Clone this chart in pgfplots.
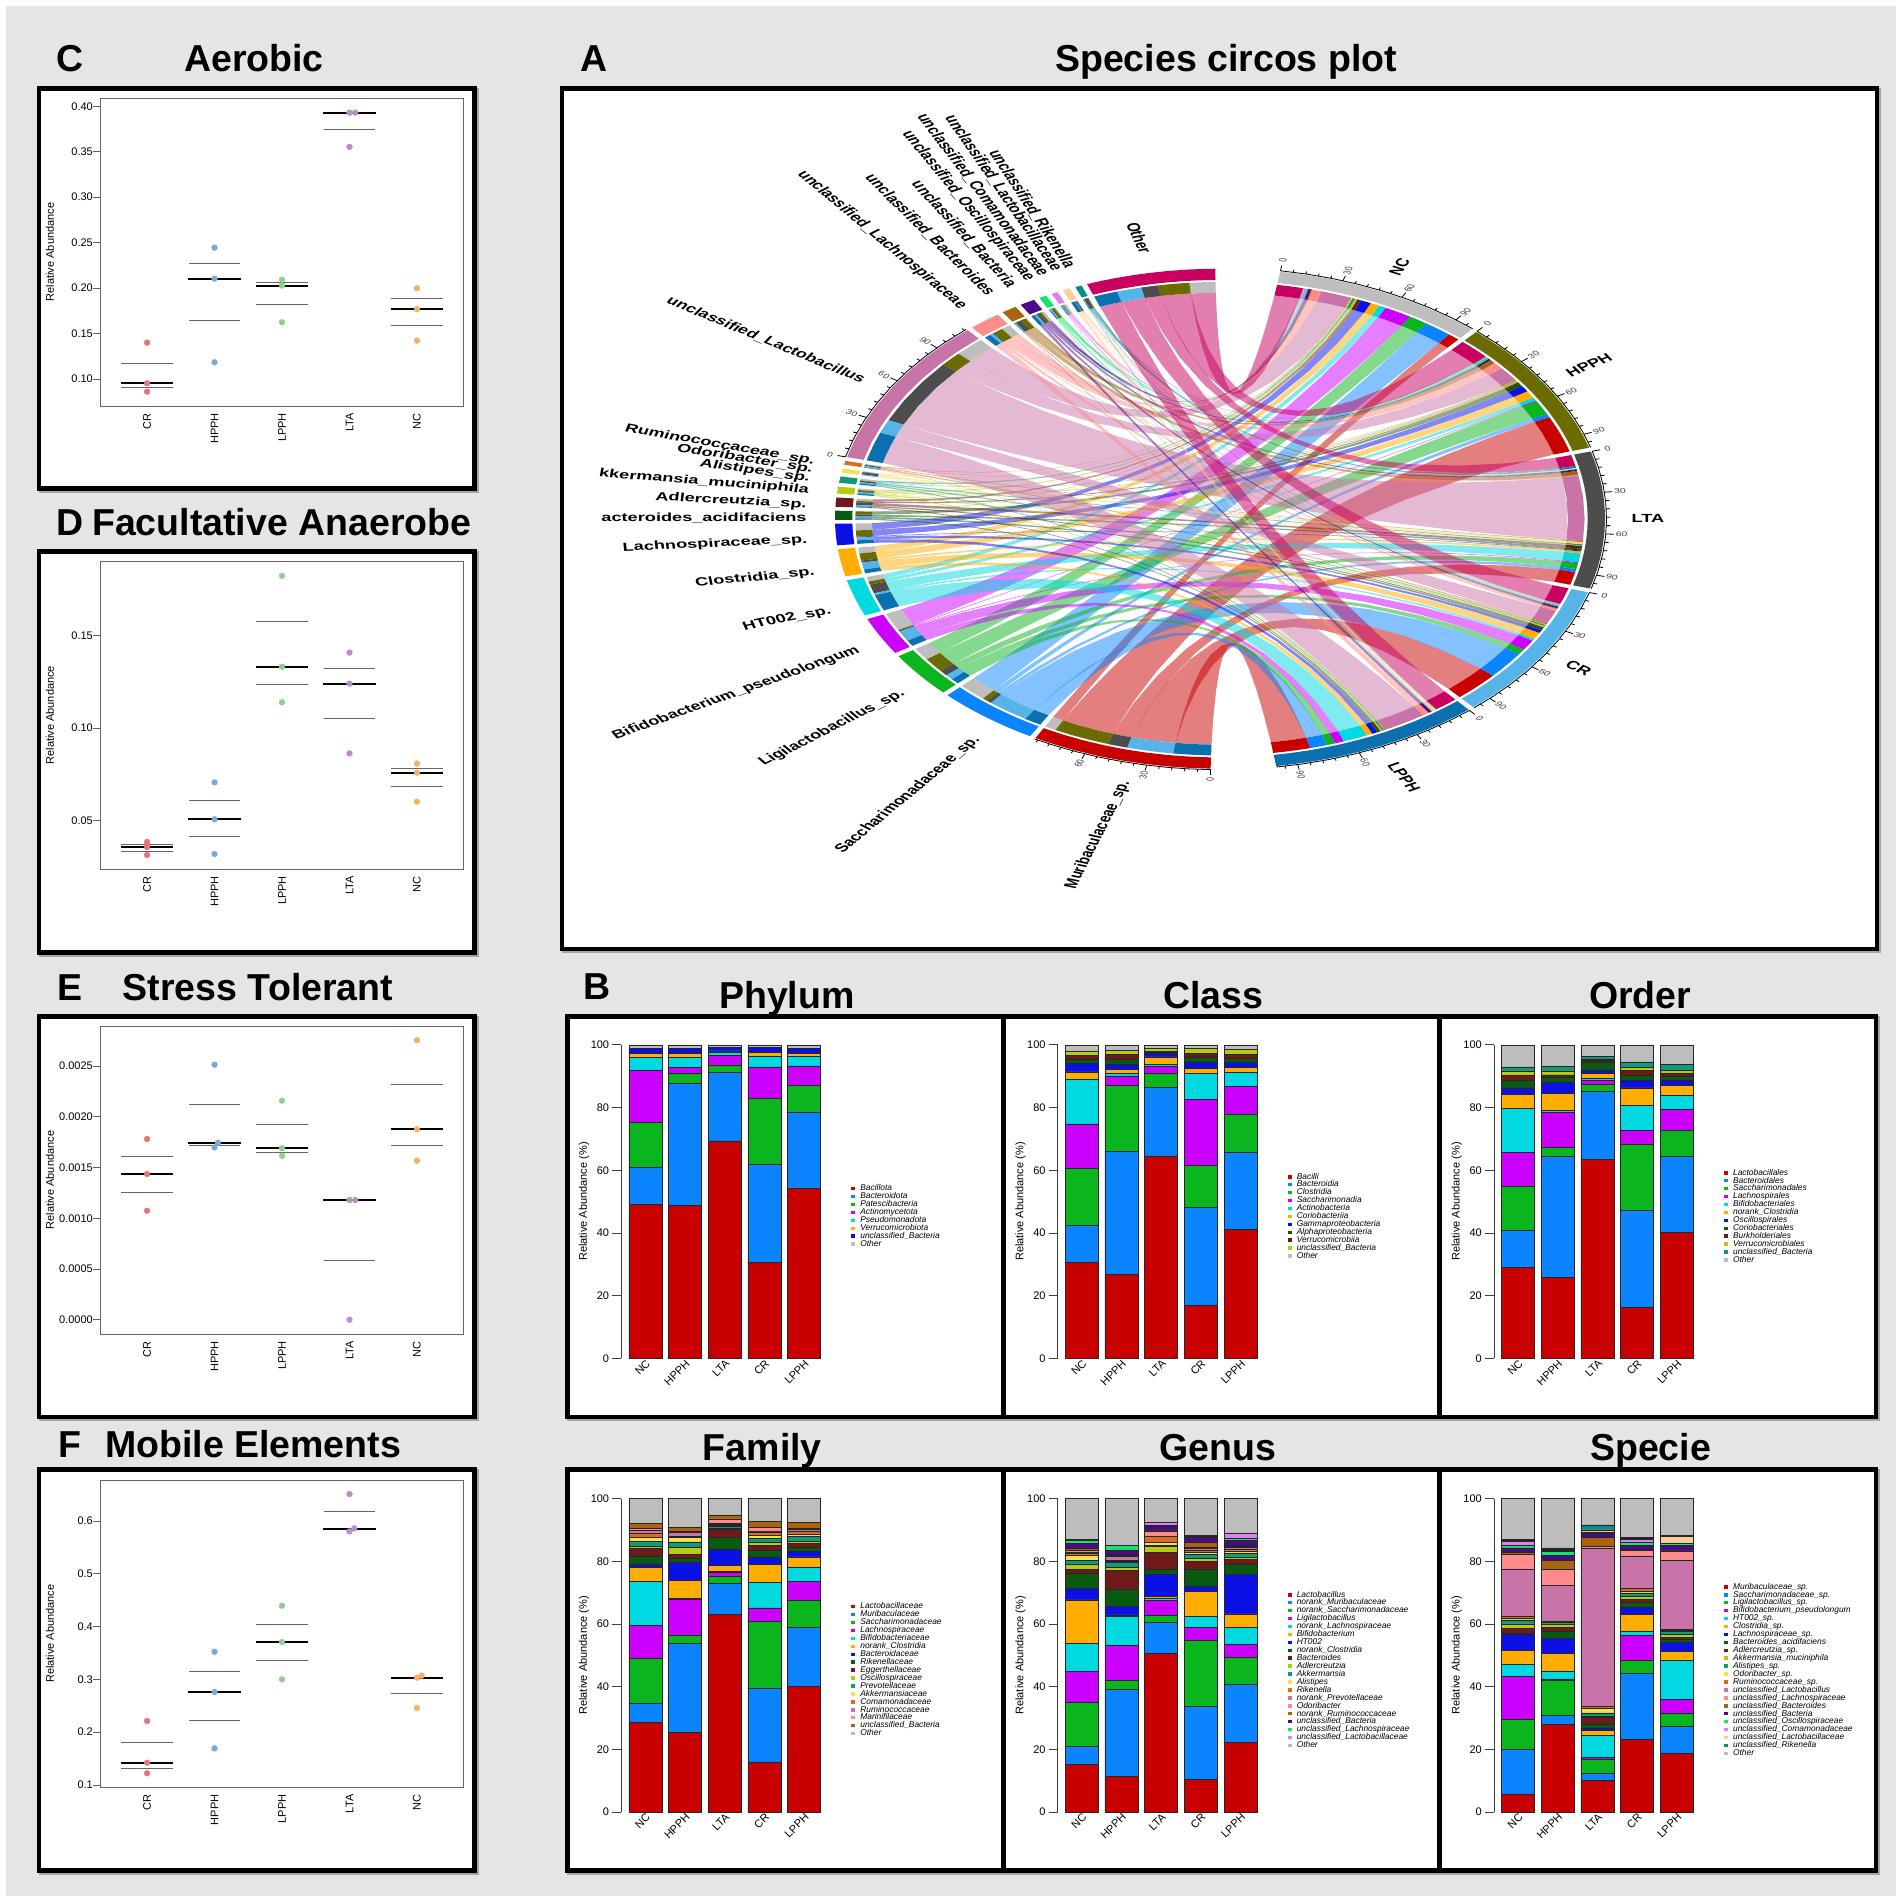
\documentclass[border=0pt]{standalone}
\usepackage{fontspec}
\setmainfont{Liberation Sans}
\usepackage{pgfplots}
\usepackage{pgfplotstable}
\pgfplotsset{compat=1.18}

% taxon colours, shared by all stacked bars
\definecolor{c1}{HTML}{C80000}\definecolor{c2}{HTML}{0A84FF}\definecolor{c3}{HTML}{0AB51E}
\definecolor{c4}{HTML}{CC00FF}\definecolor{c5}{HTML}{00D9E0}\definecolor{c6}{HTML}{FFAD00}
\definecolor{c7}{HTML}{0A10E6}\definecolor{c8}{HTML}{0A5A12}\definecolor{c9}{HTML}{6E1A1A}
\definecolor{c10}{HTML}{B5CC12}\definecolor{c11}{HTML}{12997A}\definecolor{c12}{HTML}{F5E050}
\definecolor{c13}{HTML}{DD6A1E}\definecolor{c14}{HTML}{C874A8}\definecolor{c15}{HTML}{FF8C8C}
\definecolor{c16}{HTML}{A8640F}\definecolor{c17}{HTML}{4B0A8C}\definecolor{c18}{HTML}{12E66E}
\definecolor{c19}{HTML}{E080F0}\definecolor{c20}{HTML}{FFCC99}\definecolor{c21}{HTML}{0A8C8C}
\definecolor{cO}{HTML}{BDBDBD}
\definecolor{c22}{HTML}{C8005F}
% group colours of the circos plot
\definecolor{g0}{HTML}{BEBEBE}\definecolor{g1}{HTML}{6B6B00}\definecolor{g2}{HTML}{4D4D4D}
\definecolor{g3}{HTML}{56B4E9}\definecolor{g4}{HTML}{0A70B0}
% points of the strip charts
\definecolor{ptR}{HTML}{E8737A}\definecolor{ptB}{HTML}{7AA9D6}\definecolor{ptG}{HTML}{8FD08A}
\definecolor{ptP}{HTML}{B98FC6}\definecolor{ptO}{HTML}{F7B060}

% ---- stacked bar data, rows NC HPPH LTA CR LPPH
\pgfplotstableread{
x c1 c2 c3 c4 c5 c6 c7 c8
0 49.1 11.9 14.2 16.7 4.0 1.3 1.6 1.2
1 48.8 39.1 2.9 2.0 3.2 1.3 1.6 1.1
2 69.4 21.8 2.4 3.0 1.2 0.3 1.0 0.9
3 30.6 31.2 21.2 10.0 3.4 1.2 1.5 0.9
4 54.1 24.5 8.6 6.1 3.0 1.0 1.7 1.0
}\tPhylum
\pgfplotstableread{
x c1 c2 c3 c4 c5 c6 c7 c8 c9 c10 c11
0 30.6 11.9 18.0 14.3 14.1 2.5 2.6 1.3 1.3 1.5 1.9
1 26.8 39.1 21.3 2.9 0.8 1.2 1.7 1.7 1.5 1.3 1.7
2 64.6 21.9 4.3 2.4 0.7 2.3 1.0 0.6 0.2 0.8 1.2
3 17.0 31.1 13.4 21.2 8.2 1.7 2.0 1.4 1.3 1.5 1.2
4 41.2 24.5 12.3 8.7 4.6 1.4 1.7 1.3 1.2 1.6 1.5
}\tClass
\pgfplotstableread{
x c1 c2 c3 c4 c5 c6 c7 c8 c9 c10 c11 c12
0 29.1 11.7 14.2 10.7 14.0 4.6 2.0 2.3 1.7 1.4 1.3 7.0
1 25.9 38.5 2.9 11.1 0.7 5.5 3.5 1.7 0.6 1.3 1.5 6.8
2 63.5 21.6 2.4 1.1 0.6 1.7 1.1 2.4 0.7 0.3 0.9 3.7
3 16.3 30.8 21.1 4.5 8.0 5.6 2.5 1.6 1.4 1.1 1.7 5.4
4 40.2 24.2 8.5 6.4 4.5 3.2 1.6 1.4 1.0 0.9 1.9 6.2
}\tOrder
\pgfplotstableread{
x c1 c2 c3 c4 c5 c6 c7 c8 c9 c10 c11 c12 c13 c14 c15 c16 c17
0 28.7 5.9 14.3 10.7 13.9 4.6 1.1 2.5 2.4 0.7 1.5 1.3 1.2 1.2 0.4 1.6 8.0
1 25.4 28.3 2.8 11.3 0.5 5.6 5.8 1.1 1.3 2.3 1.8 1.4 0.4 1.1 0.4 1.4 9.1
2 63.0 9.9 2.4 1.1 0.5 1.7 5.2 3.9 2.4 0.4 0.7 0.3 0.3 0.3 1.4 1.3 5.2
3 16.0 23.6 21.1 4.4 8.1 5.7 2.4 2.1 1.7 0.9 1.2 1.1 1.1 0.3 1.2 1.8 7.3
4 40.0 18.9 8.5 6.1 4.7 3.2 1.7 1.4 1.2 0.8 1.4 0.7 1.1 0.5 0.3 1.8 7.7
}\tFamily
\pgfplotstableread{
x c1 c2 c3 c4 c5 c6 c7 c8 c9 c10 c11 c12 c13 c14 c15 c16 c17 c18 c19 c20
0 15.2 5.7 14.2 9.7 9.0 13.9 3.7 4.7 1.3 1.6 1.3 1.6 0.5 0.6 0.6 0.4 1.6 1.1 0.3 13.0
1 11.3 27.8 2.8 11.3 9.2 0.5 2.7 5.6 5.8 1.1 1.5 0.4 0.3 1.2 0.5 0.2 1.3 1.5 0.2 14.8
2 50.6 9.9 2.3 4.6 0.7 0.7 7.1 1.6 5.3 1.9 0.5 0.9 1.9 0.1 1.6 0.2 1.4 0.2 0.9 7.6
3 10.4 23.3 21.0 4.1 3.6 7.9 1.7 5.6 2.3 1.1 1.2 0.7 0.6 0.5 0.4 1.6 1.6 0.3 0.3 11.8
4 22.1 18.6 8.6 4.2 5.3 4.4 12.6 3.2 1.6 0.8 1.1 0.8 0.6 0.5 0.3 0.3 1.6 0.8 1.4 11.2
}\tGenus
\pgfplotstableread{
x c1 c2 c3 c4 c5 c6 c7 c8 c9 c10 c11 c12 c13 c14 c15 c16 c17 c18 c19 c20 c21 c22
0 5.8 14.2 9.6 13.8 3.6 4.5 5.3 0.2 1.7 1.3 1.3 0.6 0.5 15.2 4.6 0.6 1.5 0.7 1.3 0.3 0.4 13.0
1 28.0 2.8 11.1 0.6 2.5 5.5 4.8 2.4 1.1 1.2 0.4 0.3 0.3 11.2 5.3 2.9 1.4 1.4 0.3 0.3 0.5 15.7
2 10.0 2.3 4.5 0.7 6.9 1.6 0.6 1.5 2.1 0.4 1.0 1.5 0.7 50.4 0.5 2.9 1.4 0.2 0.2 0.6 1.6 8.4
3 23.2 21.0 4.1 8.0 1.5 5.3 2.2 1.5 1.0 1.1 1.0 0.4 1.0 10.4 1.7 0.5 1.3 0.9 0.9 0.3 0.3 12.4
4 18.7 8.5 4.2 4.6 12.3 3.0 2.7 1.0 0.8 1.0 0.9 0.2 0.3 22.0 3.1 0.3 1.6 0.4 0.3 2.0 0.3 11.8
}\tSpecie

% ---- strip chart data
\pgfplotstableread{
g x y
CR 0 0.1400
CR 0 0.0953
CR 0 0.0861
HPPH 1 0.2445
HPPH 1 0.2104
HPPH 1 0.1184
LPPH 2 0.2093
LPPH 2 0.2027
LPPH 2 0.1624
LTA 3 0.3930
LTA 3.085 0.3930
LTA 3 0.3553
NC 4 0.1998
NC 4 0.1767
NC 4 0.1422
}\ptsC
\pgfplotstableread{
x med lo hi
0 0.0953 0.0908 0.1176
1 0.2104 0.1642 0.2273
2 0.2027 0.1825 0.2064
3 0.3930 0.3740 0.3930
4 0.1767 0.1594 0.1885
}\linC
\pgfplotstableread{
g x y
CR 0 0.0387
CR 0 0.0360
CR 0 0.0317
HPPH 1 0.0708
HPPH 1 0.0509
HPPH 1 0.0322
LPPH 2 0.1821
LPPH 2 0.1331
LPPH 2 0.1139
LTA 3 0.1407
LTA 3 0.1240
LTA 3 0.0864
NC 4 0.0809
NC 4 0.0760
NC 4 0.0604
}\ptsD
\pgfplotstableread{
x med lo hi
0 0.0358 0.0338 0.0373
1 0.0509 0.0416 0.0609
2 0.1331 0.1234 0.1575
3 0.1240 0.1051 0.1322
4 0.0760 0.0683 0.0784
}\linD
\pgfplotstableread{
g x y
CR 0 0.00178
CR 0 0.001436
CR 0 0.001074
HPPH 1 0.002513
HPPH 1.05 0.001744
HPPH 1 0.001698
LPPH 2 0.002158
LPPH 2 0.001689
LPPH 2 0.001616
LTA 3 0.001179
LTA 3.085 0.001179
LTA 3 0.0
NC 4 0.002753
NC 4 0.001876
NC 4 0.001567
}\ptsE
\pgfplotstableread{
x med lo hi
0 0.001436 0.001255 0.00161
1 0.00174 0.00172 0.002125
2 0.001689 0.001652 0.001925
3 0.001176 0.000585 0.001176
4 0.001876 0.00172 0.002313
}\linE
\pgfplotstableread{
g x y
CR 0 0.2212
CR 0 0.1423
CR 0 0.1221
HPPH 1 0.3525
HPPH 1 0.2761
HPPH 1 0.1694
LPPH 2 0.4396
LPPH 2 0.3708
LPPH 2 0.3001
LTA 3 0.6511
LTA 3.07 0.5861
LTA 3 0.5804
NC 4.07 0.3071
NC 4 0.3033
NC 4 0.2458
}\ptsF
\pgfplotstableread{
x med lo hi
0 0.1423 0.1322 0.1814
1 0.2761 0.2225 0.3146
2 0.3708 0.3355 0.4049
3 0.5855 0.5855 0.6189
4 0.3033 0.2742 0.3033
}\linF

\newcommand{\tickfont}{\fontsize{11}{12}\selectfont}
\newcommand{\titlefont}{\fontsize{37.5}{40}\selectfont\bfseries}
\newcommand{\legfont}{\fontsize{8.4}{8.4}\selectfont\itshape}
\pgfplotsset{
  every axis/.append style={/pgf/number format/assume math mode=true},
  swatch/.style={legend image code/.code={\path[##1] (0pt,-1.5pt) rectangle (4pt,2pt);}},
}

\newcount\nleg
% #1 left of axis, #2 y of zero, #3 table, #4 number of taxa, #5 names
\newcommand{\barpanel}[5]{%
\begin{axis}[at={(#1pt,-#2pt)},anchor=south west,scale only axis,width=202.7pt,height=313.4pt,
  ybar stacked,bar width=33pt,xmin=-0.605,xmax=4.5,ymin=0,ymax=100,
  axis y line*=left,axis x line*=bottom,x axis line style={draw=none},
  y axis line style={draw=black!75,line width=0.9pt},
  ytick={0,20,40,60,80,100},xtick={0,1,2,3,4},xticklabels={NC,HPPH,LTA,CR,LPPH},
  xtick style={draw=none},ytick style={draw=black!75,line width=0.9pt},tick align=outside,
  major tick length=9pt,
  xticklabel style={rotate=45,anchor=north east,font=\tickfont,inner sep=0pt,xshift=6pt,yshift=6pt},
  yticklabel style={font=\tickfont,inner sep=3pt},
  ylabel={Relative Abundance (\%)},
  ylabel style={at={(axis description cs:-0.184,0.5)},anchor=center,font=\tickfont},
  legend style={at={(axis description cs:1.135,0.452)},anchor=west,draw=none,fill=none,
    inner sep=0pt,outer sep=0pt,font=\legfont,row sep=0pt,column sep=0pt,
    /tikz/column 1/.style={column sep=5pt},
    nodes={inner sep=0pt,outer sep=0pt,text height=6pt,text depth=1.93pt}},
  legend cell align=left,
]
\pgfplotsforeachungrouped \i in {1,...,#4}{%
  \ifnum\i=#4\relax\def\thecol{cO}\else\edef\thecol{c\i}\fi
  \edef\tmp{\noexpand\addplot[forget plot,fill=\thecol,draw=black!85,line width=0.6pt] table[x=x,y=c\i]{\noexpand#3};}\tmp
}
\global\nleg=0
\pgfplotsforeachungrouped \nm in {#5}{%
  \global\advance\nleg by 1
  \ifnum\nleg=#4\relax\def\thecol{cO}\else\edef\thecol{c\the\nleg}\fi
  \edef\tmp{\noexpand\addlegendimage{swatch,fill=\thecol,draw=none}}\tmp
  \expandafter\addlegendentry\expandafter{\nm\hspace*{0pt}}
}
\end{axis}}

% #1 top, #2 bottom, #3 ymin, #4 ymax, #5 ticks, #6 precision, #7 points, #8 lines
\newcommand{\strip}[8]{%
\begin{axis}[at={(100pt,-#2pt)},anchor=south west,scale only axis,width=363.5pt,height=\fpeval{#2-#1}pt,
  xmin=-0.698,xmax=4.69,ymin=#3,ymax=#4,ytick={#5},xtick={0,1,2,3,4},
  xticklabels={CR,HPPH,LPPH,LTA,NC},xtick style={draw=none},
  axis line style={draw=black!60,line width=0.9pt},
  ytick style={draw=black!60,line width=0.9pt},tick align=outside,major tick length=7pt,
  ytick pos=left,scaled y ticks=false,
  yticklabel style={font=\tickfont,inner sep=0pt,/pgf/number format/fixed,
    /pgf/number format/fixed zerofill,/pgf/number format/precision=#6},
  xticklabel style={rotate=90,anchor=east,font=\tickfont,inner sep=0pt},
  ylabel={Relative Abundance},
  ylabel style={at={(axis description cs:-0.138,0.5)},anchor=center,font=\tickfont},
  clip=false,
]
\addplot[draw=none,mark=none,forget plot,error bars/.cd,x dir=both,x fixed=0.38,error mark=none,
  error bar style={draw=black!60,line width=1pt}] table[x=x,y=lo]{#8};
\addplot[draw=none,mark=none,forget plot,error bars/.cd,x dir=both,x fixed=0.38,error mark=none,
  error bar style={draw=black!60,line width=1pt}] table[x=x,y=hi]{#8};
\addplot[scatter,only marks,forget plot,mark size=2.9pt,scatter src=explicit symbolic,
  scatter/classes={CR={mark=*,draw=ptR,fill=ptR},HPPH={mark=*,draw=ptB,fill=ptB},
    LPPH={mark=*,draw=ptG,fill=ptG},LTA={mark=*,draw=ptP,fill=ptP},NC={mark=*,draw=ptO,fill=ptO}}]
  table[x=x,y=y,meta=g]{#7};
\addplot[draw=none,mark=none,forget plot,error bars/.cd,x dir=both,x fixed=0.39,error mark=none,
  error bar style={draw=black,line width=1.8pt}] table[x=x,y=med]{#8};
\end{axis}}

\newcommand{\frm}[4]{%
  \draw[black!35,line width=4.6pt] (#1pt+2pt,-#2pt-2pt) rectangle (#3pt+2pt,-#4pt-2pt);
  \fill[white] (#1pt,-#2pt) rectangle (#3pt,-#4pt);
  \draw[black,line width=4.6pt] (#1pt,-#2pt) rectangle (#3pt,-#4pt);}
\newcommand{\ttl}[3]{\node[anchor=base west,inner sep=0pt,font=\titlefont] at (#1pt,-#2pt) {#3};}

% ---- circos geometry, built from the Specie table
\def\uu{0.318}\def\gp{0.9}\def\Rin{0.904}\def\Rband{0.947}\def\kk{0.12}
\def\ptR#1#2{(\fpeval{round((#2)*sind(#1),4)},\fpeval{round((#2)*cosd(#1),4)})}

\newcommand{\sector}[6]{% a1 a2 r1 r2 colour n
  \gdef\tmpc{}%
  \pgfplotsforeachungrouped \k in {0,...,#6}{\xdef\tmpc{\tmpc\ptR{#1+((#2)-(#1))*\k/#6}{#4}}}%
  \pgfplotsforeachungrouped \k in {0,...,#6}{\xdef\tmpc{\tmpc\ptR{(#2)-((#2)-(#1))*\k/#6}{#3}}}%
  \edef\tmp{\noexpand\addplot[forget plot,fill=#5,draw=none] coordinates {\tmpc};}\tmp}

\def\Qp#1{(\fpeval{round(((1-#1)^2+\kk*#1*(1-#1))*\xa+((#1)^2+\kk*#1*(1-#1))*\xb,4)},\fpeval{round(((1-#1)^2+\kk*#1*(1-#1))*\ya+((#1)^2+\kk*#1*(1-#1))*\yb,4)})}
\def\Qall{\Qp{.08}\Qp{.16}\Qp{.25}\Qp{.33}\Qp{.42}\Qp{.5}\Qp{.58}\Qp{.67}\Qp{.75}\Qp{.84}\Qp{.92}}
\newcommand{\setends}[2]{%
  \edef\xa{\fpeval{\Rin*sind(#1)}}\edef\ya{\fpeval{\Rin*cosd(#1)}}%
  \edef\xb{\fpeval{\Rin*sind(#2)}}\edef\yb{\fpeval{\Rin*cosd(#2)}}}
\newcommand{\ribbon}[5]{% s1 s2 t1 t2 colour
  \edef\rc{\ptR{#1}{\Rin}\ptR{(#1+#2)/2}{\Rin}\ptR{#2}{\Rin}}%
  \setends{#2}{#3}\edef\rc{\rc\Qall\ptR{#3}{\Rin}\ptR{(#3+#4)/2}{\Rin}\ptR{#4}{\Rin}}%
  \setends{#4}{#1}\edef\rc{\rc\Qall}%
  \edef\tmp{\noexpand\addplot[forget plot,fill=#5,draw=none,fill opacity=0.5] coordinates {\rc};}\tmp}

\newcommand{\addticks}[2]{% start, units
  \edef\nmax{\fpeval{floor(#2)}}%
  \xdef\tk{\tk
    \ptR{#1}{1.004}\ptR{#1+\uu*#2*.125}{1.004}\ptR{#1+\uu*#2*.25}{1.004}\ptR{#1+\uu*#2*.375}{1.004}\ptR{#1+\uu*#2*.5}{1.004}%
    \ptR{#1+\uu*#2*.625}{1.004}\ptR{#1+\uu*#2*.75}{1.004}\ptR{#1+\uu*#2*.875}{1.004}\ptR{#1+\uu*#2}{1.004}(nan,nan)}%
  \count255=0
  \loop\ifnum\count255<\numexpr\nmax+1\relax
    \ifnum\numexpr\count255-30*(\count255/30)\relax=0 \def\rr{1.025}\else\def\rr{1.014}\fi
    \xdef\tk{\tk\ptR{#1+\uu*\the\count255}{1.004}\ptR{#1+\uu*\the\count255}{\rr}(nan,nan)}%
    \advance\count255 by 6
  \repeat}

% small numbers round the ring, in the stretched circle's own space
\newcommand{\ringnum}[2]{% start angle, value
  \edef\aa{\fpeval{#1+\uu*#2}}%
  \edef\ro{\fpeval{\aa<180 ? 90-\aa : 270-\aa}}%
  \node[transform shape,rotate=\ro,inner sep=0pt,font=\fontsize{6.8}{7}\selectfont,text=black!75]
    at (\fpeval{261.25*sind(\aa)}pt,\fpeval{261.25*cosd(\aa)}pt) {#2};}
\newcommand{\ringnums}[1]{\ringnum{#1}{0}\ringnum{#1}{30}\ringnum{#1}{60}\ringnum{#1}{90}}
\newcommand{\lab}[4]{% centre x, y, screen angle, text
  \begin{scope}[shift={(#1pt,-#2pt)},xscale=1.54]
  \node[transform shape,inner sep=0pt,rotate=\fpeval{atand(1.54*sind(#3),cosd(#3))},
    font=\fontsize{11.8}{12}\selectfont\bfseries] {#4};
  \end{scope}}

\begin{document}
\begin{tikzpicture}[x=1pt,y=1pt]
\useasboundingbox (0pt,0pt) rectangle (1902pt,-1902pt);
\fill[white] (0pt,0pt) rectangle (1902pt,-1902pt);
\fill[black!10] (6pt,-6pt) rectangle (1896pt,-1896pt);

\frm{39}{88.3}{474.6}{488.5}
\frm{39}{551.6}{474.6}{952.4}
\frm{39}{1016.3}{474.6}{1417}
\frm{39}{1469.6}{474.6}{1870.4}
\frm{562}{88.3}{1877}{949}
\frm{567.2}{1016.3}{1003.6}{1416.8}
\frm{1003.6}{1016.3}{1439.7}{1416.8}
\frm{1439.7}{1016.3}{1876}{1416.8}
\frm{567.2}{1469.5}{1003.6}{1870.7}
\frm{1003.6}{1469.5}{1439.7}{1870.7}
\frm{1439.7}{1469.5}{1876}{1870.7}

\strip{98}{406}{0.0703}{0.4091}{0.10,0.15,0.20,0.25,0.30,0.35,0.40}{2}{\ptsC}{\linC}
\strip{561.3}{869}{0.0241}{0.1899}{0.05,0.10,0.15}{2}{\ptsD}{\linD}
\strip{1026}{1334}{-0.000141}{0.002894}{0,0.0005,0.0010,0.0015,0.0020,0.0025}{4}{\ptsE}{\linE}
\strip{1480}{1787.3}{0.0956}{0.6777}{0.1,0.2,0.3,0.4,0.5,0.6}{1}{\ptsF}{\linF}

\barpanel{621.3}{1358.3}{\tPhylum}{8}{Bacillota,Bacteroidota,Patescibacteria,Actinomycetota,Pseudomonadota,Verrucomicrobiota,unclassified\_Bacteria,Other}
\barpanel{1057.7}{1358.3}{\tClass}{11}{Bacilli,Bacteroidia,Clostridia,Saccharimonadia,Actinobacteria,Coriobacteriia,Gammaproteobacteria,Alphaproteobacteria,Verrucomicrobiia,unclassified\_Bacteria,Other}
\barpanel{1494}{1358.3}{\tOrder}{12}{Lactobacillales,Bacteroidales,Saccharimonadales,Lachnospirales,Bifidobacteriales,norank\_Clostridia,Oscillospirales,Coriobacteriales,Burkholderiales,Verrucomicrobiales,unclassified\_Bacteria,Other}
\barpanel{621.3}{1812}{\tFamily}{17}{Lactobacillaceae,Muribaculaceae,Saccharimonadaceae,Lachnospiraceae,Bifidobacteriaceae,norank\_Clostridia,Bacteroidaceae,Rikenellaceae,Eggerthellaceae,Oscillospiraceae,Prevotellaceae,Akkermansiaceae,Comamonadaceae,Ruminococcaceae,Marinifilaceae,unclassified\_Bacteria,Other}
\barpanel{1057.7}{1812}{\tGenus}{20}{Lactobacillus,norank\_Muribaculaceae,norank\_Saccharimonadaceae,Ligilactobacillus,norank\_Lachnospiraceae,Bifidobacterium,HT002,norank\_Clostridia,Bacteroides,Adlercreutzia,Akkermansia,Alistipes,Rikenella,norank\_Prevotellaceae,Odoribacter,norank\_Ruminococcaceae,unclassified\_Bacteria,unclassified\_Lachnospiraceae,unclassified\_Lactobacillaceae,Other}
\barpanel{1494}{1812}{\tSpecie}{22}{Muribaculaceae\_sp.,Saccharimonadaceae\_sp.,Ligilactobacillus\_sp.,Bifidobacterium\_pseudolongum,HT002\_sp.,Clostridia\_sp.,Lachnospiraceae\_sp.,Bacteroides\_acidifaciens,Adlercreutzia\_sp.,Akkermansia\_muciniphila,Alistipes\_sp.,Odoribacter\_sp.,Ruminococcaceae\_sp.,unclassified\_Lactobacillus,unclassified\_Lachnospiraceae,unclassified\_Bacteroides,unclassified\_Bacteria,unclassified\_Oscillospiraceae,unclassified\_Comamonadaceae,unclassified\_Lactobacillaceae,unclassified\_Rikenella,Other}

% circos: read the flows, then lay the sectors out clockwise
\pgfplotsforeachungrouped \i in {1,...,22}{%
  \pgfplotsforeachungrouped \r in {0,...,4}{%
    \pgfplotstablegetelem{\r}{c\i}\of\tSpecie
    \expandafter\xdef\csname V\i-\r\endcsname{\pgfplotsretval}}}
\xdef\curA{181.4}
\pgfplotsforeachungrouped \i in {1,...,22}{%
  \expandafter\xdef\csname SA\i\endcsname{\curA}%
  \pgfplotsforeachungrouped \r in {4,3,...,0}{%
    \expandafter\xdef\csname S\i-\r\endcsname{\curA}%
    \xdef\curA{\fpeval{\curA+\uu*\csname V\i-\r\endcsname}}}%
  \expandafter\xdef\csname SB\i\endcsname{\curA}%
  \xdef\curA{\fpeval{\curA+\gp}}}
\xdef\curA{9}
\pgfplotsforeachungrouped \r in {0,...,4}{%
  \expandafter\xdef\csname GA\r\endcsname{\curA}%
  \pgfplotsforeachungrouped \i in {22,21,...,1}{%
    \expandafter\xdef\csname G\i-\r\endcsname{\curA}%
    \xdef\curA{\fpeval{\curA+\uu*\csname V\i-\r\endcsname}}}%
  \expandafter\xdef\csname GB\r\endcsname{\curA}%
  \xdef\curA{\fpeval{\curA+\gp}}}

\begin{axis}[at={(758pt,-818.7pt)},anchor=south west,scale only axis,width=924pt,height=600pt,
  xmin=-1.2,xmax=1.2,ymin=-1.2,ymax=1.2,hide axis,clip=false,unbounded coords=jump]
% ribbons
\pgfplotsforeachungrouped \i in {1,...,22}{%
  \pgfplotsforeachungrouped \r in {0,...,4}{%
    \edef\sa{\csname S\i-\r\endcsname}\edef\ta{\csname G\i-\r\endcsname}%
    \edef\ww{\fpeval{\uu*\csname V\i-\r\endcsname}}%
    \edef\sb{\fpeval{\sa+\ww}}\edef\tb{\fpeval{\ta+\ww}}%
    \edef\go{\noexpand\ribbon{\sa}{\sb}{\ta}{\tb}{c\i}}\go}}
% inner bands
\pgfplotsforeachungrouped \i in {1,...,22}{%
  \pgfplotsforeachungrouped \r in {0,...,4}{%
    \edef\sa{\csname S\i-\r\endcsname}\edef\ta{\csname G\i-\r\endcsname}%
    \edef\ww{\fpeval{\uu*\csname V\i-\r\endcsname}}%
    \edef\sb{\fpeval{\sa+\ww}}\edef\tb{\fpeval{\ta+\ww}}%
    \edef\go{\noexpand\sector{\sa}{\sb}{\Rin}{\Rband}{g\r}{3}}\go
    \edef\go{\noexpand\sector{\ta}{\tb}{\Rin}{\Rband}{c\i}{3}}\go}}
% outer rings
\pgfplotsforeachungrouped \i in {1,...,22}{%
  \edef\go{\noexpand\sector{\csname SA\i\endcsname}{\csname SB\i\endcsname}{0.955}{1.0}{c\i}{8}}\go}
\pgfplotsforeachungrouped \r in {0,...,4}{%
  \edef\go{\noexpand\sector{\csname GA\r\endcsname}{\csname GB\r\endcsname}{0.955}{1.0}{g\r}{12}}\go}
% ring axes
\gdef\tk{}
\pgfplotsforeachungrouped \r in {0,...,4}{%
  \edef\go{\noexpand\addticks{\csname GA\r\endcsname}{100}}\go}
\edef\go{\noexpand\addticks{\csname SA1\endcsname}{85.7}}\go
\edef\go{\noexpand\addticks{\csname SA14\endcsname}{109.0}}\go
\edef\tmp{\noexpand\addplot[forget plot,black,line width=0.8pt] coordinates {\tk};}\tmp
\end{axis}

\begin{scope}[shift={(1220pt,-518.7pt)},xscale=1.54]
\pgfplotsforeachungrouped \r in {0,...,4}{\edef\go{\noexpand\ringnums{\csname GA\r\endcsname}}\go}
\edef\go{\noexpand\ringnum{\csname SA1\endcsname}{0}}\go
\edef\go{\noexpand\ringnum{\csname SA1\endcsname}{30}}\go
\edef\go{\noexpand\ringnum{\csname SA1\endcsname}{60}}\go
\edef\go{\noexpand\ringnums{\csname SA14\endcsname}}\go
\end{scope}

\lab{1139}{238}{-65}{Other}
\lab{1032}{209}{-56.6}{unclassified\_Rikenella}
\lab{1003.5}{193}{-55}{unclassified\_Lactobacillaceae}
\lab{983}{195}{-52.6}{unclassified\_Comamonadaceae}
\lab{968}{206}{-50}{unclassified\_Oscillospiraceae}
\lab{964}{234}{-47}{unclassified\_Bacteria}
\lab{930}{235}{-44}{unclassified\_Bacteroides}
\lab{882}{240}{-39.6}{unclassified\_Lachnospiraceae}
\lab{766}{340}{-22.4}{unclassified\_Lactobacillus}
\lab{720}{445}{-10}{Ruminococcaceae\_sp.}
\lab{745}{459}{-9}{Odoribacter\_sp.}
\lab{755}{471}{-8}{Alistipes\_sp.}
\lab{704}{482}{-4.5}{kkermansia\_muciniphila}
\lab{731}{501}{-3}{Adlercreutzia\_sp.}
\lab{704}{518}{0}{acteroides\_acidifaciens}
\lab{715}{544}{2.6}{Lachnospiraceae\_sp.}
\lab{755}{578}{5.3}{Clostridia\_sp.}
\lab{787}{619}{10.7}{HT002\_sp.}
\lab{736}{693}{19.6}{Bifidobacterium\_pseudolongum}
\lab{832}{728}{26.6}{Ligilactobacillus\_sp.}
\lab{908}{795}{39.5}{Saccharimonadaceae\_sp.}
\lab{1098}{835}{63}{Muribaculaceae\_sp.}
\lab{1399.5}{267}{54}{NC}
\lab{1589}{365}{22.6}{HPPH}
\lab{1648}{518.6}{0}{LTA}
\lab{1578.6}{668}{-23.6}{CR}
\lab{1404}{777}{-50}{LPPH}

\ttl{56}{71.7}{C}
\ttl{184}{71.7}{Aerobic}
\ttl{580}{72}{A}
\ttl{1055}{72}{Species circos plot}
\ttl{56}{535}{D}
\ttl{92}{535}{Facultative Anaerobe}
\ttl{57}{1000.7}{E}
\ttl{122.7}{1000.7}{Stress Tolerant}
\ttl{58}{1457}{F}
\ttl{105}{1457}{Mobile Elements}
\ttl{583}{999}{B}
\ttl{719}{1008}{Phylum}
\ttl{1163}{1008}{Class}
\ttl{1589}{1008}{Order}
\ttl{702.7}{1460}{Family}
\ttl{1159}{1460}{Genus}
\ttl{1590}{1460}{Specie}
\end{tikzpicture}
\end{document}
